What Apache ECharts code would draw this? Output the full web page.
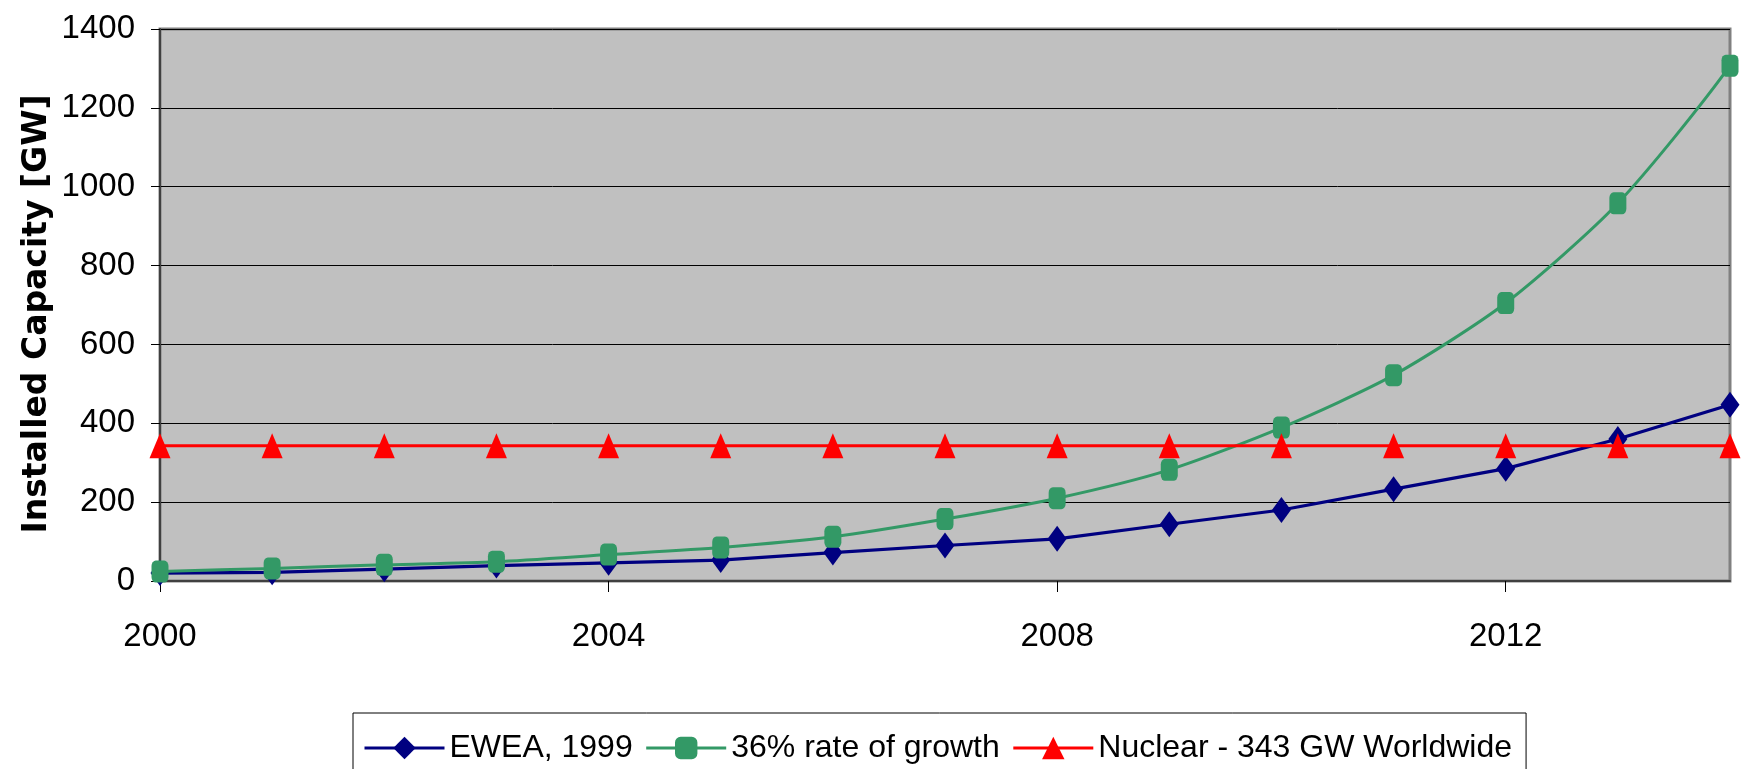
<!DOCTYPE html>
<html>
<head>
<meta charset="utf-8">
<title>Installed Capacity</title>
<script src="https://cdn.jsdelivr.net/npm/echarts@6/dist/echarts.min.js"></script>
<style>
  html, body { margin: 0; padding: 0; background: #ffffff; }
  #chart { width: 1746px; height: 769px; }
</style>
</head>
<body>
<div id="chart"></div>
<script>
// Years on the horizontal axis (2015 runs past the right edge of the plot)
const years = [2000, 2001, 2002, 2003, 2004, 2005, 2006, 2007, 2008, 2009, 2010, 2011, 2012, 2013, 2014, 2015];

// Installed capacity in GW
const ewea1999 = [20, 22, 30, 39, 46, 53, 72, 90, 107, 144, 180, 233, 285, 360, 447, 545];
const growth36 = [24, 32, 41, 49, 67, 85, 112, 157, 210, 282, 389, 522, 705, 958, 1307, 1750];
const nuclear = [343, 343, 343, 343, 343, 343, 343, 343, 343, 343, 343, 343, 343, 343, 343, 343];

const seriesNames = ['EWEA, 1999', '36% rate of growth', 'Nuclear - 343 GW Worldwide'];
const yTicks = { min: 0, max: 1400, step: 200 };
const xRange = { min: 2000, max: 2014 };
const xTickLabels = [2000, 2004, 2008, 2012];

const sans = "'Liberation Sans', Arial, sans-serif";

const pairs = arr => years.map((y, i) => [y, arr[i]]);
const plain = v => String(v);

const chart = echarts.init(document.getElementById('chart'), null, { renderer: 'canvas' });

chart.setOption({
  backgroundColor: '#ffffff',
  animation: false,
  grid: {
    left: 160, right: 16, top: 29, bottom: 188,
    show: true,
    backgroundColor: '#C0C0C0',
    borderColor: '#808080',
    borderWidth: 3
  },
  graphic: [{
    type: 'text',
    x: 37, y: 314,
    rotation: Math.PI / 2,
    style: {
      text: 'Installed Capacity [GW]',
      font: "bold 33px 'DejaVu Sans', sans-serif",
      fill: '#000000',
      textAlign: 'center',
      textVerticalAlign: 'middle'
    }
  }],
  legend: {
    left: 353,
    top: 713,
    padding: [19, 14, 40, 10],
    borderColor: '#000000',
    borderWidth: 1,
    itemWidth: 80,
    itemHeight: 28,
    itemGap: 12,
    data: seriesNames,
    lineStyle: { width: 3 },
    textStyle: { fontFamily: sans, fontSize: 32, color: '#000000' }
  },
  xAxis: {
    type: 'value',
    min: xRange.min, max: xRange.max,
    axisLine: { show: true, onZero: false, lineStyle: { color: '#404040', width: 2 } },
    axisTick: { show: true, inside: false, length: 11, customValues: xTickLabels, lineStyle: { color: '#000000', width: 1 } },
    axisLabel: { margin: 39, customValues: xTickLabels, formatter: plain, fontFamily: sans, fontSize: 33, color: '#000000' },
    splitLine: { show: false }
  },
  yAxis: {
    type: 'value',
    min: yTicks.min, max: yTicks.max, interval: yTicks.step,
    axisLine: { show: true, lineStyle: { color: '#404040', width: 2 } },
    axisTick: { show: true, inside: false, length: 9, lineStyle: { color: '#000000', width: 1 } },
    axisLabel: { margin: 25, formatter: plain, fontFamily: sans, fontSize: 33, color: '#000000' },
    splitLine: { show: true, lineStyle: { color: '#000000', width: 1 } }
  },
  series: [
    {
      name: seriesNames[0],
      type: 'line',
      data: pairs(ewea1999),
      clip: false,
      symbol: 'diamond',
      symbolSize: [19, 26],
      lineStyle: { color: '#000080', width: 3.2 },
      itemStyle: { color: '#000080' },
      z: 2
    },
    {
      name: seriesNames[1],
      type: 'line',
      data: pairs(growth36),
      clip: false,
      smooth: 0.25,
      symbol: 'roundRect',
      symbolSize: [17, 22],
      lineStyle: { color: '#339966', width: 3 },
      itemStyle: { color: '#339966' },
      z: 3
    },
    {
      name: seriesNames[2],
      type: 'line',
      data: pairs(nuclear),
      clip: false,
      symbol: 'triangle',
      symbolSize: [21, 25],
      lineStyle: { color: '#FF0000', width: 3 },
      itemStyle: { color: '#FF0000' },
      z: 4
    }
  ]
});
</script>
</body>
</html>
